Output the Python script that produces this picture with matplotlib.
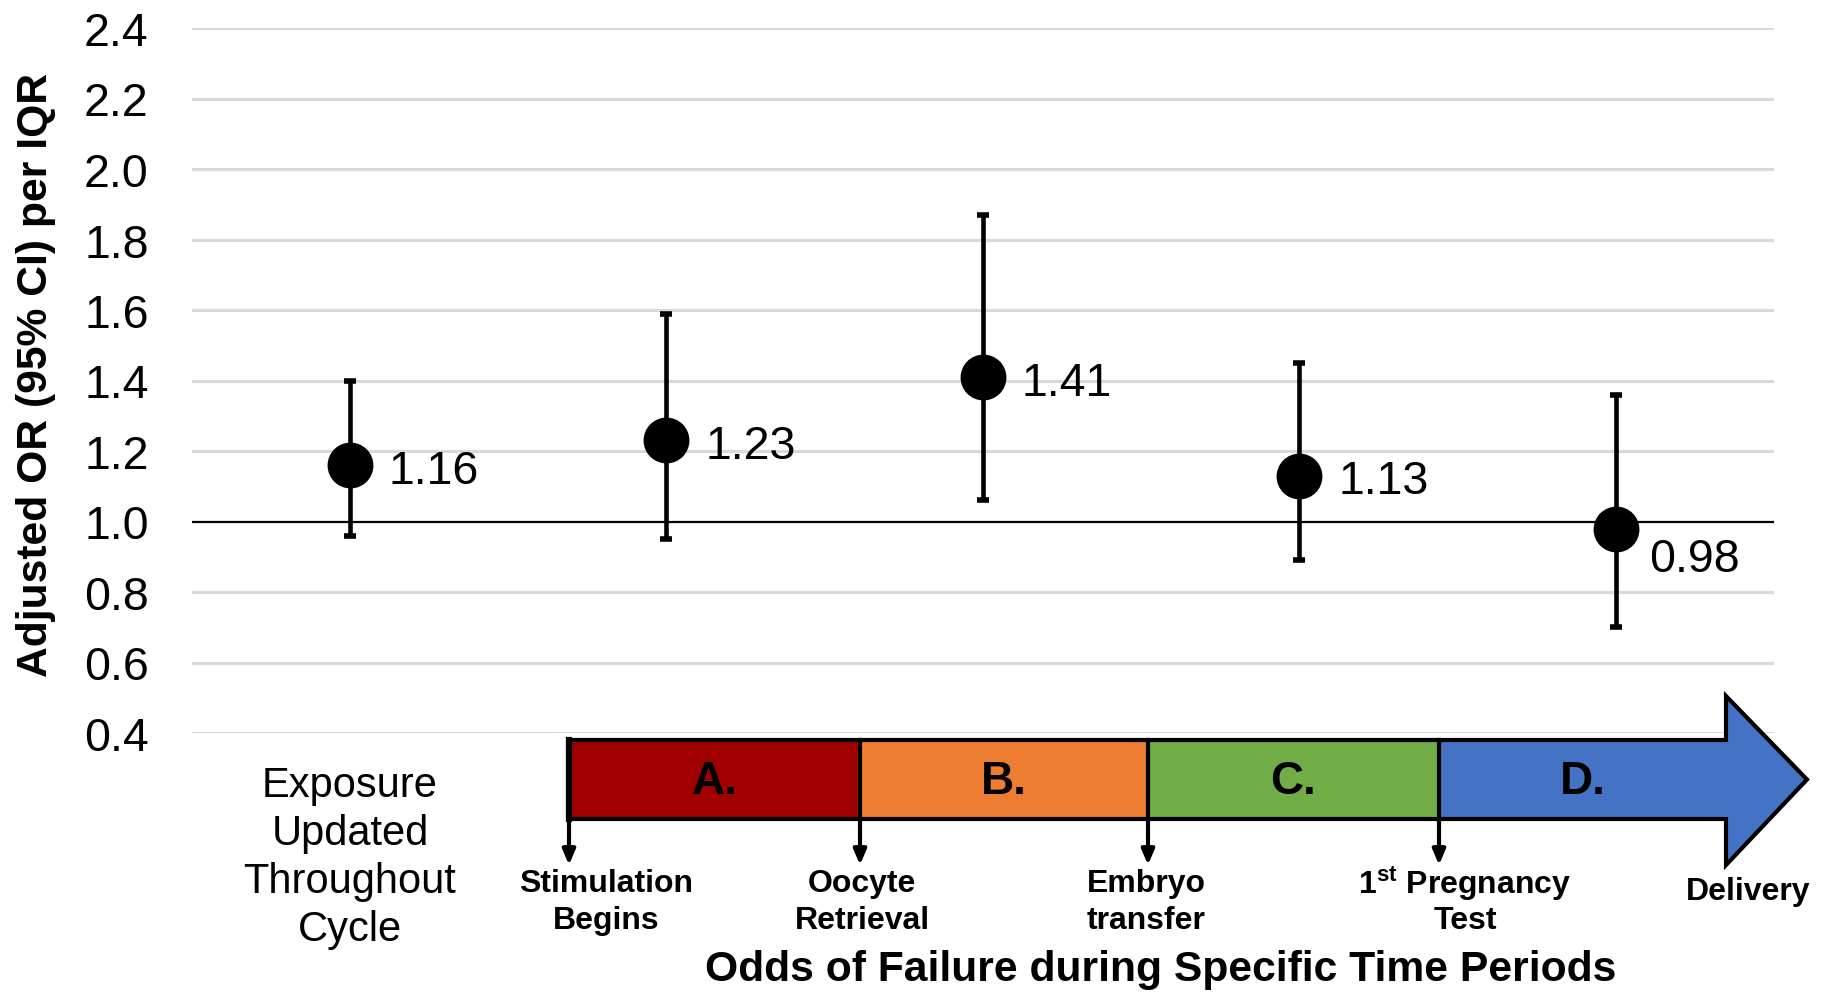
import numpy as np
import matplotlib
matplotlib.use('Agg')
import matplotlib.pyplot as plt
from matplotlib.patches import Polygon, Rectangle

plt.rcParams['font.family'] = ['Liberation Sans', 'DejaVu Sans']
plt.rcParams['mathtext.fontset'] = 'custom'
plt.rcParams['mathtext.rm'] = 'Liberation Sans:bold'
plt.rcParams['mathtext.bf'] = 'Liberation Sans:bold'

# odds ratios with 95% CI
periods = ['Exposure Updated Throughout Cycle', 'A.', 'B.', 'C.', 'D.']
odds = [1.16, 1.23, 1.41, 1.13, 0.98]
ci_low = [0.96, 0.95, 1.06, 0.89, 0.70]
ci_high = [1.40, 1.59, 1.87, 1.45, 1.36]

yticks = [0.4, 0.6, 0.8, 1.0, 1.2, 1.4, 1.6, 1.8, 2.0, 2.2, 2.4]

# timeline
stage_names = ['A.', 'B.', 'C.', 'D.']
stage_colors = ['#A00000', '#ED7D31', '#70AD47', '#4472C4']
events = ['Stimulation\nBegins', 'Oocyte\nRetrieval', 'Embryo\ntransfer',
          '1$^{\\mathrm{st}}$ Pregnancy\nTest', 'Delivery']

W, H = 1822, 995
fig = plt.figure(figsize=(W / 100, H / 100), dpi=100)
ax = fig.add_axes([191.7 / W, 1 - 734 / H, (1774 - 191.7) / W, (734 - 29) / H])

x = np.arange(len(odds))
odds_a = np.array(odds)
err = [odds_a - np.array(ci_low), np.array(ci_high) - odds_a]

for yv in yticks:
    if yv != 1.0:
        ax.axhline(yv, color='#D9D9D9', lw=2.2, zorder=0)
ax.axhline(1.0, color='black', lw=1.6, zorder=1)

ax.errorbar(x, odds, yerr=err, fmt='o', color='black', ms=32, elinewidth=3.3,
            capsize=4.3, capthick=4, zorder=3)

for xi, v in zip(x, odds):
    if v < 1:
        ax.annotate('%0.2f' % v, (xi, v), xytext=(24, -22), textcoords='offset points',
                    ha='left', va='center', fontsize=33.5)
    else:
        ax.annotate('%0.2f' % v, (xi, v), xytext=(28, -4), textcoords='offset points',
                    ha='left', va='center', fontsize=33.5)

ax.set_xlim(-0.5, 4.5)
ax.set_ylim(0.4, 2.4)
ax.set_yticks(yticks)
ax.set_yticklabels(['%0.1f' % t for t in yticks], fontsize=33.5)
ax.tick_params(axis='y', length=0, pad=31)
ax.set_xticks([])
for s in ax.spines.values():
    s.set_visible(False)
ax.set_ylabel('Adjusted OR (95% CI) per IQR', fontsize=30.7, fontweight='bold')
ax.yaxis.set_label_coords(-(191.7 - 56) / (1774 - 191.7), (734 - 375) / (734 - 29))

# overlay in pixel units for the timeline diagram
ov = fig.add_axes([0, 0, 1, 1], zorder=5)
ov.set_xlim(0, W)
ov.set_ylim(H, 0)
ov.axis('off')

bounds = [569, 860, 1148, 1439, 1726]
top, bot = 741, 820
head_top, head_bot, tip = 697, 866, 1807
mid = (top + bot) / 2

for i in range(3):
    ov.add_patch(Rectangle((bounds[i], top), bounds[i + 1] - bounds[i], bot - top,
                           facecolor=stage_colors[i], edgecolor='none'))
ov.add_patch(Polygon([(bounds[3], top), (bounds[4], top), (bounds[4], head_top), (tip, mid),
                      (bounds[4], head_bot), (bounds[4], bot), (bounds[3], bot)],
                     closed=True, facecolor=stage_colors[3], edgecolor='none'))
ov.add_patch(Polygon([(bounds[0], top), (bounds[4], top), (bounds[4], head_top), (tip, mid),
                      (bounds[4], head_bot), (bounds[4], bot), (bounds[0], bot)],
                     closed=True, facecolor='none', edgecolor='black', lw=3, joinstyle='miter'))
ov.plot([bounds[0], bounds[0]], [top, bot], color='black', lw=4.5)
for b in bounds[1:4]:
    ov.plot([b, b], [top, bot], color='black', lw=3)

for i, name in enumerate(stage_names):
    cx = (bounds[i] + bounds[i + 1]) / 2
    ov.text(cx, mid + 2, name, ha='center', va='center', fontsize=33, fontweight='bold')

for b in bounds[:4]:
    ov.annotate('', xy=(b, 866), xytext=(b, bot),
                arrowprops=dict(arrowstyle='-|>,head_length=0.9,head_width=0.38', lw=3,
                                color='black', shrinkA=0, shrinkB=0))

label_x = [606, 862, 1146, 1465, 1748]
for lx, ev in zip(label_x, events):
    lines = ev.split('\n')
    if len(lines) == 1:
        ov.text(lx, 892, lines[0], ha='center', va='center', fontsize=23, fontweight='bold')
    else:
        ov.text(lx, 884, lines[0], ha='center', va='center', fontsize=23, fontweight='bold')
        ov.text(lx, 921, lines[1], ha='center', va='center', fontsize=23, fontweight='bold')

ov.text(350, 858, 'Exposure\nUpdated\nThroughout\nCycle', ha='center', va='center',
        fontsize=30, linespacing=1.25)
ov.text(1161, 970, 'Odds of Failure during Specific Time Periods', ha='center', va='center',
        fontsize=30.7, fontweight='bold')

fig.savefig('out.png', dpi=100)
